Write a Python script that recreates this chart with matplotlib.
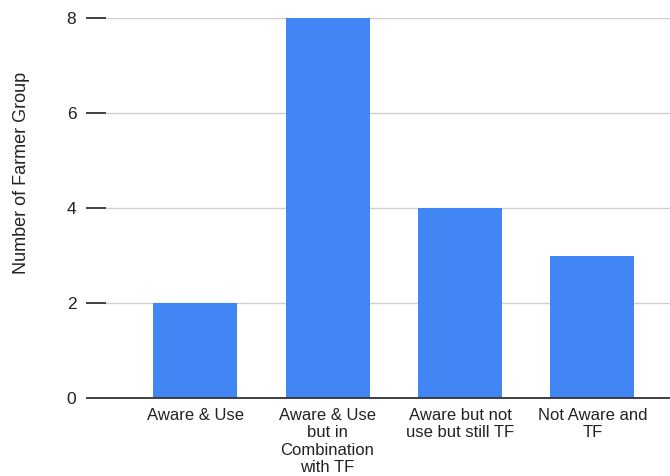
import matplotlib.pyplot as plt

plt.rcParams["font.family"] = ["Liberation Sans", "DejaVu Sans"]

categories = [
    "Aware & Use",
    "Aware & Use\nbut in\nCombination\nwith TF",
    "Aware but not\nuse but still TF",
    "Not Aware and\nTF",
]
counts = [2, 8, 4, 3]
y_ticks = [0, 2, 4, 6, 8]

fig = plt.figure(figsize=(6.7, 4.76), dpi=100)
ax = fig.add_axes([106 / 670, 78 / 476, 564 / 670, 380 / 476])

x = list(range(len(categories)))
ax.bar(x, counts, width=0.634, color="#4285F4", zorder=3, clip_on=False)

ax.set_xlim(-0.672, 3.585)
ax.set_ylim(0, 8)
ax.set_yticks(y_ticks)
ax.set_xticks(x)
ax.set_xticklabels(categories, fontsize=12, color="#222222", linespacing=1.2)
ax.tick_params(axis="x", length=0, pad=7)
ax.tick_params(axis="y", length=14.4, width=1.3, color="#333333", pad=7,
               labelsize=12.5, labelcolor="#222222")

ax.grid(axis="y", color="#d0d0d0", linewidth=1, zorder=0)
for side in ["top", "right", "left"]:
    ax.spines[side].set_visible(False)
ax.spines["bottom"].set_color("#333333")
ax.spines["bottom"].set_linewidth(1.3)
ax.spines["bottom"].set_zorder(4)

fig.text(22 / 670, 1 - 173 / 476, "Number of Farmer Group", rotation=90,
         ha="center", va="center", fontsize=13, color="#222222")

plt.savefig("out.png", dpi=100)
